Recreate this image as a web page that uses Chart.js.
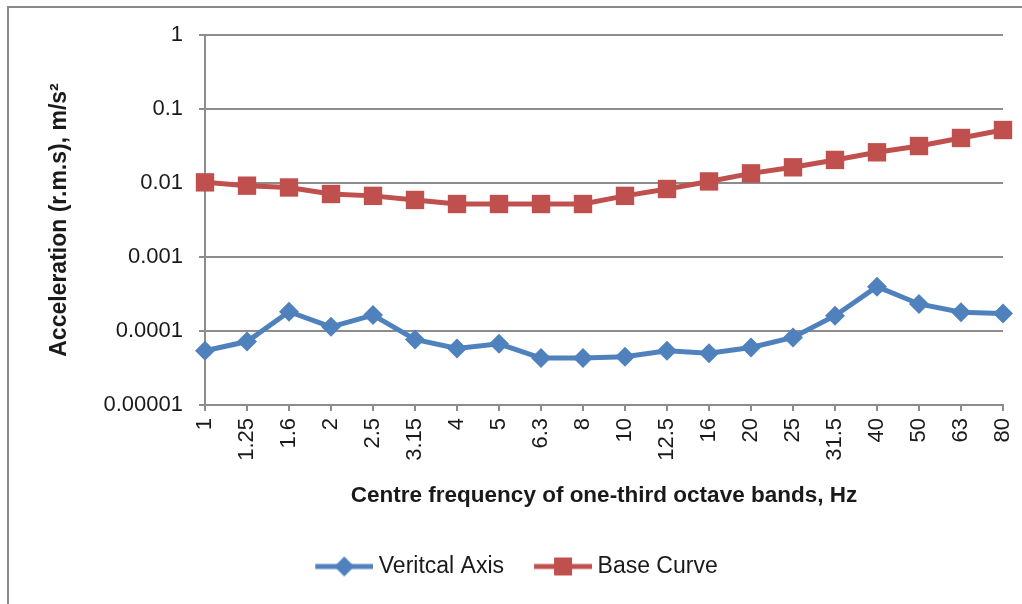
<!DOCTYPE html>
<html>
<head>
<meta charset="utf-8">
<script src="https://cdn.jsdelivr.net/npm/chart.js@4"></script>
<style>
  body { margin: 0; background: #fff; }
  #wrap { position: relative; width: 1022px; height: 604px; overflow: hidden; }
  #frame { position: absolute; left: 7px; top: 6px; width: 1100px; height: 700px;
           border-left: 2px solid #8a8a8a; border-top: 2px solid #8a8a8a; }
  canvas { position: absolute; left: 0; top: 0; }
</style>
</head>
<body>
<div id="wrap">
  <div id="frame"></div>
  <canvas id="accel-chart" width="1022" height="604"></canvas>
</div>
<script>
// one-third octave band centre frequencies (Hz)
const categories = ['1', '1.25', '1.6', '2', '2.5', '3.15', '4', '5', '6.3', '8',
                    '10', '12.5', '16', '20', '25', '31.5', '40', '50', '63', '80'];

const verticalAxis = [5.4e-5, 7.2e-5, 1.82e-4, 1.14e-4, 1.64e-4, 7.7e-5, 5.8e-5, 6.7e-5, 4.3e-5, 4.3e-5,
                      4.5e-5, 5.4e-5, 5.0e-5, 6.0e-5, 8.2e-5, 1.61e-4, 3.97e-4, 2.32e-4, 1.79e-4, 1.73e-4];
const baseCurve = [0.0102, 0.0092, 0.0087, 0.0071, 0.0067, 0.0059, 0.0052, 0.0052, 0.0052, 0.0052,
                   0.0067, 0.0083, 0.0105, 0.0135, 0.0163, 0.0205, 0.026, 0.0316, 0.0406, 0.052];

const yTicks = [0.00001, 0.0001, 0.001, 0.01, 0.1, 1];
const yTickLabels = ['0.00001', '0.0001', '0.001', '0.01', '0.1', '1'];

const BLUE = '#4f81bd';
const RED = '#c0504d';
const GRID = '#8c8c8c';
const TEXT = '#1a1a1a';
const FONT = 'Liberation Sans';

// legend icon: short line with the marker in the middle.
// canvas is wider than the legend box so the icon sits close to its text
function legendIcon(color, style) {
  const c = document.createElement('canvas');
  c.width = 84;
  c.height = 22;
  const ctx = c.getContext('2d');
  const x0 = 26;
  ctx.strokeStyle = color;
  ctx.fillStyle = color;
  ctx.lineWidth = 5;
  ctx.beginPath();
  ctx.moveTo(x0, 11);
  ctx.lineTo(x0 + 58, 11);
  ctx.stroke();
  ctx.beginPath();
  const cx = x0 + 29;
  if (style === 'diamond') {
    ctx.moveTo(cx, 1); ctx.lineTo(cx + 10, 11); ctx.lineTo(cx, 21); ctx.lineTo(cx - 10, 11);
  } else {
    ctx.rect(cx - 9, 2, 18, 18);
  }
  ctx.fill();
  return c;
}

const icons = [legendIcon(BLUE, 'diamond'), legendIcon(RED, 'square')];

function createAccelChart() {
  const ctx = document.getElementById('accel-chart').getContext('2d');
  new Chart(ctx, {
    type: 'line',
    data: {
      labels: categories,
      datasets: [{
        label: 'Veritcal Axis',
        data: verticalAxis,
        borderColor: BLUE,
        backgroundColor: BLUE,
        borderWidth: 5,
        pointStyle: 'rectRot',
        pointRadius: 10,
        pointBorderWidth: 0,
        tension: 0
      }, {
        label: 'Base Curve',
        data: baseCurve,
        borderColor: RED,
        backgroundColor: RED,
        borderWidth: 5,
        pointStyle: 'rect',
        pointRadius: 13,
        pointBorderWidth: 0,
        tension: 0
      }]
    },
    options: {
      responsive: false,
      animation: false,
      layout: {
        padding: { left: 10, top: 35, right: 19, bottom: 16 }
      },
      plugins: {
        tooltip: { enabled: false },
        legend: {
          position: 'bottom',
          labels: {
            usePointStyle: true,
            pointStyleWidth: 72,
            padding: 10,
            color: TEXT,
            font: { family: FONT, size: 23 },
            generateLabels: function(chart) {
              const items = Chart.defaults.plugins.legend.labels.generateLabels(chart);
              items.forEach((item, i) => { item.pointStyle = icons[i]; });
              return items;
            }
          }
        }
      },
      scales: {
        x: {
          type: 'category',
          offset: false,
          afterFit: function(scale) {
            scale.height = 140;
            scale.paddingLeft = 0;
            scale.paddingRight = 19;
          },
          grid: {
            drawOnChartArea: false,
            drawTicks: true,
            tickLength: 6,
            color: GRID,
            lineWidth: 2
          },
          border: { color: GRID, width: 2 },
          ticks: {
            minRotation: 90,
            maxRotation: 90,
            autoSkip: false,
            padding: 7,
            color: TEXT,
            font: { family: FONT, size: 22 }
          },
          title: {
            display: true,
            text: 'Centre frequency of one-third octave bands, Hz',
            color: TEXT,
            font: { family: FONT, size: 22.5, weight: 'bold' },
            padding: { top: 0, bottom: 36 }
          }
        },
        y: {
          type: 'logarithmic',
          min: 0.00001,
          max: 1,
          afterFit: function(scale) { scale.width = 195; },
          afterBuildTicks: function(scale) {
            scale.ticks = yTicks.map(v => ({ value: v, major: false }));
          },
          grid: {
            drawTicks: true,
            tickLength: 6,
            color: GRID,
            lineWidth: 2
          },
          border: { color: GRID, width: 2 },
          ticks: {
            padding: 16,
            color: TEXT,
            font: { family: FONT, size: 22 },
            callback: function(value) {
              return yTickLabels[yTicks.indexOf(value)];
            }
          },
          title: {
            display: true,
            text: 'Acceleration (r.m.s), m/s\u00b2',
            color: TEXT,
            font: { family: FONT, size: 23, weight: 'bold' },
            padding: { top: 36, bottom: 0 }
          }
        }
      }
    }
  });
}

document.addEventListener('DOMContentLoaded', () => {
  createAccelChart();
});
</script>
</body>
</html>
